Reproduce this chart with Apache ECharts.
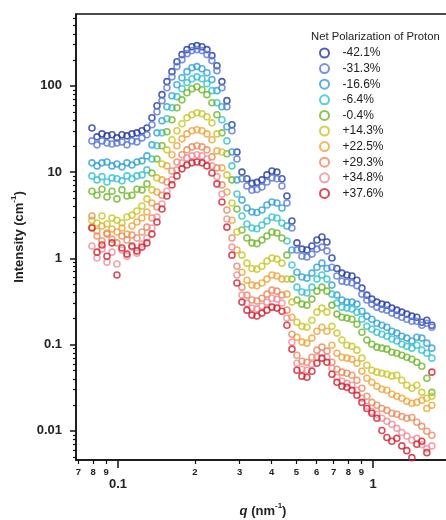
<!DOCTYPE html>
<html><head><meta charset="utf-8">
<script src="https://cdn.jsdelivr.net/npm/echarts@6/dist/echarts.min.js"></script>
<style>html,body{margin:0;padding:0;background:#fff}#c{width:446px;height:520px}</style>
</head><body><div id="c"></div>
<script>
// scattering vector q (nm^-1), shared by all series
const q = [0.0791,0.0828,0.0866,0.0906,0.0948,0.0991,0.1037,0.1085,0.1135,0.1187,
0.1242,0.1299,0.1359,0.1422,0.1488,0.1556,0.1628,0.1703,0.1782,0.1864,
0.1950,0.2040,0.2134,0.2232,0.2335,0.2443,0.2556,0.2673,0.2797,0.2926,
0.3061,0.3202,0.3350,0.3504,0.3666,0.3835,0.4012,0.4197,0.4391,0.4593,
0.4805,0.5027,0.5259,0.5501,0.5755,0.6021,0.6299,0.6589,0.6893,0.7211,
0.7544,0.7892,0.8256,0.8637,0.9035,0.9447,0.9883,1.034,1.082,1.132,
1.184,1.238,1.295,1.355,1.418,1.483,1.551,1.623,1.698];

// intensities (cm^-1)
const pm421 = [32.5,25.6,27.7,26.3,27.1,24.9,27.1,26.3,27.7,28.5,
30.1,32.5,42.6,58.8,79,112,146,190,230,263,
284,292,284,263,224,171,112,67.3,35.4,17.1,
10.0,8.36,7.4,7.6,8.12,9.28,10.3,10.0,8.36,5.29,
2.71,1.51,1.28,1.25,1.39,1.63,1.77,1.55,1.01,0.764,
0.675,0.641,0.624,0.557,0.452,0.375,0.337,0.311,0.295,0.287,
0.265,0.251,0.238,0.226,0.214,0.208,0.182,0.192,0.168];
const pm313 = [23.0,20.7,23.0,21.8,21.2,21.8,22.4,20.7,23.0,22.4,
24.9,27.1,35.4,50.1,67.3,95,127,167,201,236,
256,263,256,230,196,150,95,57.2,30.1,14.2,
8.36,6.90,6.15,6.3,6.73,7.69,8.56,8.36,6.90,4.38,
2.25,1.25,1.06,1.04,1.12,1.28,1.35,1.22,0.79,0.624,
0.544,0.531,0.518,0.483,0.385,0.329,0.295,0.272,0.258,0.251,
0.232,0.220,0.208,0.197,0.187,0.187,0.168,0.177,0.159];
const pm166 = [12.8,11.8,12.8,13.1,11.8,12.4,11.5,12.8,12.1,13.1,
13.5,15.4,20.7,28.5,39.4,57.2,76.7,103,124,146,
162,167,158,142,118,87.9,57.2,33.5,17.1,8.12,
4.76,3.84,3.45,3.40,3.64,4.16,4.51,4.38,3.84,2.37,
1.25,0.69,0.607,0.59,0.675,0.79,0.88,0.764,0.49,0.375,
0.329,0.311,0.311,0.295,0.244,0.214,0.197,0.177,0.168,0.159,
0.143,0.136,0.125,0.119,0.11,0.122,0.119,0.104,0.0911];
const pm64 = [9.03,8.12,8.86,7.69,8.56,8.36,7.92,9.03,8.36,9.03,
9.28,10.6,14.2,20.2,28.5,41.5,55.6,74.9,92.5,109,
121,127,121,106,87.9,63.7,40.4,23.0,11.8,5.58,
3.10,2.50,2.25,2.20,2.44,2.71,3.02,2.94,2.57,1.59,
0.837,0.464,0.407,0.396,0.464,0.575,0.641,0.575,0.385,0.303,
0.272,0.265,0.258,0.238,0.197,0.163,0.151,0.139,0.132,0.125,
0.116,0.11,0.101,0.0955,0.0911,0.0985,0.0863,0.0796,0.0697];
const pm04 = [6.00,5.39,6.33,5.16,6.00,4.89,6.22,5.29,5.39,6.33,
6.22,7.30,9.77,14.2,20.2,29.3,40.4,55.6,68.8,83.2,
92.5,97.6,90.0,79.0,63.7,46.2,28.5,16.3,8.12,3.73,
2.13,1.72,1.51,1.48,1.63,1.82,2.02,1.97,1.72,1.09,
0.575,0.329,0.295,0.287,0.337,0.417,0.464,0.417,0.287,0.226,
0.208,0.203,0.197,0.172,0.139,0.113,0.101,0.0935,0.0911,0.0887,
0.0817,0.0796,0.0754,0.0715,0.0678,0.0626,0.0562,0.0407,0.028];
const pp143 = [2.77,2.57,3.10,2.50,2.94,2.77,2.57,3.02,3.17,3.54,
4.05,4.89,6.22,8.56,12.4,18.1,23.7,30.1,36.3,42.6,
46.2,48.7,47.4,43.8,37.2,27.7,17.1,9.28,4.38,2.02,
1.09,0.88,0.764,0.75,0.81,0.93,1.01,0.98,0.88,0.575,
0.311,0.182,0.163,0.159,0.192,0.238,0.265,0.238,0.163,0.136,
0.113,0.0985,0.0955,0.0863,0.0697,0.0576,0.0505,0.048,0.0466,0.0454,
0.0431,0.0442,0.0386,0.0338,0.0312,0.0338,0.028,0.0239,0.0252];
const pp225 = [2.30,2.07,2.37,1.97,2.19,2.02,2.25,1.91,2.37,2.64,
2.94,3.45,4.38,5.88,8.12,11.8,15.9,20.2,24.3,27.7,
30.1,30.9,30.1,27.7,23.7,17.6,11.2,5.88,2.77,1.25,
0.69,0.557,0.49,0.48,0.518,0.575,0.641,0.624,0.575,0.385,
0.208,0.122,0.107,0.104,0.119,0.143,0.159,0.143,0.0985,0.0796,
0.0715,0.0697,0.0678,0.0609,0.0491,0.0407,0.0366,0.0329,0.0304,0.0296,
0.0266,0.0252,0.0239,0.0220,0.0209,0.0214,0.0226,0.0182,0.0198];
const pp293 = [3.10,1.82,1.59,1.91,1.67,1.51,1.82,1.63,1.86,1.72,
2.02,2.30,2.94,3.95,5.39,7.69,10.3,13.1,15.9,18.1,
19.6,20.2,19.6,18.1,15.0,11.2,7.10,3.64,1.72,0.81,
0.464,0.375,0.329,0.32,0.345,0.385,0.428,0.417,0.375,0.251,
0.132,0.0754,0.0642,0.0626,0.0715,0.0863,0.0935,0.0841,0.0626,0.0518,
0.048,0.0466,0.0442,0.0386,0.0312,0.0252,0.0214,0.0198,0.0182,0.0173,
0.0160,0.0156,0.0147,0.0140,0.0143,0.0126,0.0113,0.0099,0.0089];
const pp348 = [1.39,1.01,1.28,0.904,1.18,0.86,1.25,1.06,1.35,1.15,
1.47,1.72,2.25,3.02,4.27,6.00,8.12,10.6,12.8,14.6,
15.4,15.9,15.4,14.2,11.8,8.86,5.58,2.86,1.35,0.641,
0.375,0.303,0.265,0.26,0.279,0.311,0.345,0.337,0.303,0.203,
0.107,0.0609,0.0518,0.0505,0.0592,0.0715,0.0796,0.0715,0.0532,0.0419,
0.0376,0.0356,0.0338,0.0296,0.0239,0.0193,0.0168,0.0156,0.0140,0.0129,
0.0119,0.0107,0.0096,0.0087,0.0078,0.0082,0.0069,0.0062,0.0067];
const pp376 = [2.25,1.18,1.43,1.06,1.51,0.641,1.32,1.12,1.39,1.22,
1.35,1.51,1.91,2.64,3.73,5.29,7.10,9.03,10.9,12.1,
12.8,13.1,12.8,11.8,9.77,7.30,4.51,2.30,1.09,0.518,
0.311,0.251,0.220,0.215,0.232,0.251,0.272,0.265,0.244,0.168,
0.0887,0.0505,0.0431,0.0419,0.0491,0.0609,0.0697,0.0626,0.0454,0.0366,
0.0329,0.0320,0.0296,0.0259,0.0214,0.0182,0.0160,0.0140,0.0101,0.0084,
0.0076,0.0082,0.0067,0.0059,0.0049,0.0070,0.0076,0.0056,0.048];

const seriesNames = ['-42.1%','-31.3%','-16.6%','-6.4%','-0.4%','+14.3%','+22.5%','+29.3%','+34.8%','+37.6%'];
const seriesValues = [pm421, pm313, pm166, pm64, pm04, pp143, pp225, pp293, pp348, pp376];

// axis ticks
const xMajorTicks = [0.1, 1];
const xMinorTicks = [0.07,0.08,0.09,0.2,0.3,0.4,0.5,0.6,0.7,0.8,0.9];
const yMajorTicks = [0.01, 0.1, 1, 10, 100];
const yMinorTicks = [0.005,0.006,0.007,0.008,0.009,0.02,0.03,0.04,0.05,0.06,0.07,0.08,0.09,
0.2,0.3,0.4,0.5,0.6,0.7,0.8,0.9,2,3,4,5,6,7,8,9,20,30,40,50,60,70,80,90,200,300,400,500,600];
const xMin = 0.0685, xMax = 2.0;
const yMin = 0.0046, yMax = 680;

const colors = ['#22399E','#5A77DA','#2E9FD8','#33C2CC','#6DB526','#C9C424','#EFA43A','#E98A5E','#EE8E9A','#D0202E'];
const FF = "'Liberation Sans', Arial, sans-serif";

function fmtMajor(v){ const e = Math.round(Math.log10(v)); return e >= 0 ? String(Math.pow(10, e)) : Math.pow(10, e).toFixed(-e); }
function fmtMinor(v){ const e = Math.floor(Math.log10(v) + 1e-6); return String(Math.round(v / Math.pow(10, e))); }

const chart = echarts.init(document.getElementById('c'), null, {renderer: 'canvas'});
const axisColor = '#111';
const option = {
  animation: false,
  backgroundColor: '#fff',
  title: {
    text: 'Net Polarization of Proton', left: 306, top: 26,
    textStyle: {fontFamily: FF, fontSize: 11.3, fontWeight: 'normal', color: '#222'}
  },
  legend: {
    orient: 'vertical', left: 314, top: 42,
    itemWidth: 26, itemHeight: 9, itemGap: 3.6,
    selectedMode: false,
    textStyle: {fontFamily: FF, fontSize: 12, color: '#222'},
    data: seriesNames.map((n, k) => ({name: n, icon: 'circle',
      itemStyle: {color: 'rgba(255,255,255,0)', borderColor: colors[k], borderWidth: 2}}))
  },
  grid: {left: 76, top: 14, right: -4, bottom: 60, show: true, borderColor: axisColor, borderWidth: 1.5,
    backgroundColor: 'rgba(0,0,0,0)', containLabel: false, outerBoundsMode: 'none'},
  xAxis: [
    {type: 'log', min: xMin, max: xMax, position: 'bottom',
     axisLine: {show: true, lineStyle: {color: axisColor, width: 1.5}},
     axisTick: {show: true, customValues: xMajorTicks, length: 8, lineStyle: {color: axisColor, width: 1.5}},
     axisLabel: {customValues: xMajorTicks, formatter: fmtMajor, fontFamily: FF, fontSize: 13, fontWeight: 'bold', color: '#222', margin: 18},
     splitLine: {show: false}, minorTick: {show: false},
     name: '{i|q}{b| (nm}{s|-1}{b|)}', nameLocation: 'middle', nameGap: 42,
     nameTextStyle: {rich: {
       i: {fontFamily: FF, fontSize: 13, fontWeight: 'bold', fontStyle: 'italic', color: '#222', lineHeight: 16, verticalAlign: 'bottom'},
       b: {fontFamily: FF, fontSize: 13, fontWeight: 'bold', color: '#222', lineHeight: 16, verticalAlign: 'bottom'},
       s: {fontFamily: FF, fontSize: 8, fontWeight: 'bold', color: '#222', lineHeight: 9, verticalAlign: 'top'}
     }}},
    {type: 'log', min: xMin, max: xMax, position: 'bottom',
     axisLine: {show: false},
     axisTick: {show: true, customValues: xMinorTicks, length: 4, lineStyle: {color: axisColor, width: 1.2}},
     axisLabel: {customValues: xMinorTicks, formatter: fmtMinor, fontFamily: FF, fontSize: 9.5, fontWeight: 'bold', color: '#222', margin: 7},
     splitLine: {show: false}, minorTick: {show: false}}
  ],
  yAxis: [
    {type: 'log', min: yMin, max: yMax, position: 'left',
     axisLine: {show: true, lineStyle: {color: axisColor, width: 1.5}},
     axisTick: {show: true, customValues: yMajorTicks, length: 6, lineStyle: {color: axisColor, width: 1.5}},
     axisLabel: {customValues: yMajorTicks, formatter: fmtMajor, fontFamily: FF, fontSize: 13, fontWeight: 'bold', color: '#222', margin: 14},
     splitLine: {show: false}, minorTick: {show: false},
     name: '{b|Intensity (cm}{s|-1}{b|)}', nameLocation: 'middle', nameGap: 47, nameRotate: 90,
     nameTextStyle: {rich: {
       b: {fontFamily: FF, fontSize: 13, fontWeight: 'bold', color: '#222', lineHeight: 16, verticalAlign: 'bottom'},
       s: {fontFamily: FF, fontSize: 8, fontWeight: 'bold', color: '#222', lineHeight: 9, verticalAlign: 'top'}
     }}},
    {type: 'log', min: yMin, max: yMax, position: 'left',
     axisLine: {show: false},
     axisTick: {show: true, customValues: yMinorTicks, length: 3, lineStyle: {color: axisColor, width: 1.2}},
     axisLabel: {show: false},
     splitLine: {show: false}, minorTick: {show: false}}
  ],
  series: seriesValues.map((arr, k) => ({
    type: 'scatter', name: seriesNames[k], xAxisIndex: 0, yAxisIndex: 0,
    data: q.map((x, i) => [x, arr[i]]),
    symbol: 'circle', symbolSize: 6,
    itemStyle: {color: 'rgba(255,255,255,0)', borderColor: colors[k], borderWidth: 1.6},
    emphasis: {disabled: true}, silent: true
  }))
};
chart.setOption(option);
</script>
</body></html>
